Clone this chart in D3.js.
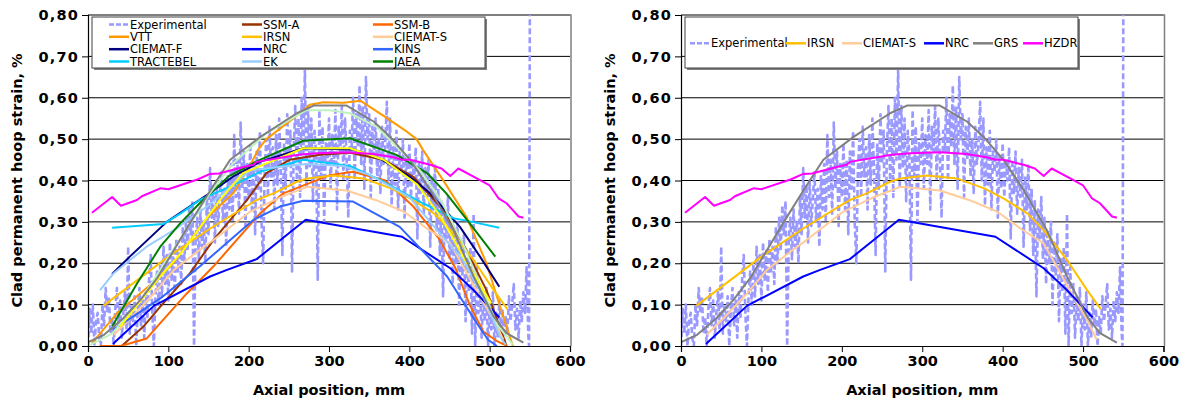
<!DOCTYPE html>
<html>
<head>
<meta charset="utf-8">
<script src="https://cdn.jsdelivr.net/npm/d3@7"></script>
<style>
  body { margin: 0; background: #fff; }
  svg text { font-family: "DejaVu Sans", Verdana, sans-serif; }
</style>
</head>
<body>
<div id="chart"></div>
<script>
var svgW = 1187;
var svgH = 403;

var axialTicks = [0, 100, 200, 300, 400, 500, 600];
var strainTicks = [0, 0.1, 0.2, 0.3, 0.4, 0.5, 0.6, 0.7, 0.8];

// measured profile, [axial mm, strain %]
var experimental = [
  [0,0.0],[2,0.09],[4,0.03],[6,0.10],[8,0.0],[10,0.06],[12,0.08],[14,0.02],[16,0.0],[18,0.10],
  [20,0.05],[22,0.14],[24,0.08],[26,0.12],[28,0.03],[30,0.07],[32,0.0],[34,0.09],[36,0.14],[38,0.05],
  [40,0.11],[42,0.02],[44,0.08],[46,0.13],[48,0.04],[50,0.24],[52,0.03],[54,0.10],[56,0.06],[58,0.12],
  [60,0.0],[62,0.09],[64,0.14],[66,0.05],[68,0.11],[70,0.02],[72,0.13],[74,0.07],[76,0.16],[78,0.22],
  [80,0.08],[82,0.0],[84,0.12],[86,0.18],[88,0.10],[90,0.20],[92,0.12],[94,0.24],[96,0.15],[98,0.22],
  [100,0.11],[102,0.25],[104,0.16],[106,0.23],[108,0.13],[110,0.26],[112,0.18],[114,0.24],[116,0.15],[118,0.29],
  [120,0.20],[122,0.31],[124,0.23],[126,0.34],[128,0.27],[130,0.35],[132,0.0],[134,0.26],[136,0.31],[138,0.21],
  [140,0.33],[142,0.24],[144,0.30],[146,0.20],[148,0.36],[150,0.27],[152,0.43],[154,0.31],[156,0.39],[158,0.25],
  [160,0.40],[162,0.29],[164,0.36],[166,0.42],[168,0.30],[170,0.38],[172,0.24],[174,0.41],[176,0.33],[178,0.44],
  [180,0.30],[182,0.51],[184,0.36],[186,0.45],[188,0.32],[190,0.54],[192,0.38],[194,0.47],[196,0.29],[198,0.44],
  [200,0.36],[202,0.49],[204,0.33],[206,0.45],[208,0.27],[210,0.47],[212,0.38],[214,0.52],[216,0.30],[218,0.20],
  [220,0.43],[222,0.50],[224,0.36],[226,0.53],[228,0.41],[230,0.48],[232,0.33],[234,0.51],[236,0.39],[238,0.55],
  [240,0.42],[242,0.22],[244,0.49],[246,0.38],[248,0.56],[250,0.44],[252,0.52],[254,0.18],[256,0.47],[258,0.58],
  [260,0.40],[262,0.55],[264,0.36],[266,0.60],[268,0.45],[270,0.67],[272,0.38],[274,0.58],[276,0.43],[278,0.55],
  [280,0.35],[282,0.52],[284,0.46],[286,0.16],[288,0.57],[290,0.41],[292,0.53],[294,0.30],[296,0.49],[298,0.44],
  [300,0.55],[302,0.38],[304,0.51],[306,0.44],[308,0.57],[310,0.33],[312,0.53],[314,0.47],[316,0.58],[318,0.40],
  [320,0.55],[322,0.45],[324,0.31],[326,0.52],[328,0.47],[330,0.60],[332,0.40],[334,0.56],[336,0.48],[338,0.63],
  [340,0.44],[342,0.58],[344,0.38],[346,0.65],[348,0.50],[350,0.56],[352,0.36],[354,0.53],[356,0.45],[358,0.55],
  [360,0.41],[362,0.50],[364,0.37],[366,0.53],[368,0.44],[370,0.49],[372,0.59],[374,0.40],[376,0.55],[378,0.34],
  [380,0.48],[382,0.39],[384,0.52],[386,0.33],[388,0.47],[390,0.42],[392,0.50],[394,0.31],[396,0.46],[398,0.38],
  [400,0.49],[402,0.36],[404,0.45],[406,0.40],[408,0.48],[410,0.26],[412,0.44],[414,0.37],[416,0.47],[418,0.32],
  [420,0.43],[422,0.36],[424,0.45],[426,0.24],[428,0.41],[430,0.33],[432,0.44],[434,0.28],[436,0.38],[438,0.22],
  [440,0.35],[442,0.12],[444,0.33],[446,0.26],[448,0.36],[450,0.21],[452,0.31],[454,0.15],[456,0.28],[458,0.20],
  [460,0.30],[462,0.10],[464,0.25],[466,0.17],[468,0.27],[470,0.06],[472,0.21],[474,0.13],[476,0.24],[478,0.03],
  [480,0.32],[482,0.0],[484,0.19],[486,0.08],[488,0.15],[490,0.02],[492,0.12],[494,0.06],[496,0.14],[498,0.0],
  [500,0.10],[502,0.04],[504,0.13],[506,0.0],[508,0.08],[510,0.02],[512,0.11],[514,0.05],[516,0.09],[518,0.0],
  [520,0.07],[522,0.03],[524,0.12],[526,0.06],[528,0.10],[530,0.15],[532,0.04],[534,0.09],[536,0.02],[538,0.11],
  [540,0.06],[542,0.13],[544,0.08],[546,0.19],[548,0.03],[549,0.0],[550,0.80]
];

var ssmA = [[42,0],[69,0.047],[90,0.095],[127,0.176],[156,0.256],[198,0.353],[222,0.418],[251,0.45],[289,0.462],[326,0.467],[368,0.45],[405,0.409],[446,0.32],[471,0.232],[496,0.135],[517,0.022],[521,0]];
var ssmB = [[15,0],[41,0],[73,0.018],[86,0.047],[123,0.127],[156,0.192],[214,0.32],[243,0.369],[301,0.413],[330,0.421],[370,0.40],[405,0.337],[436,0.262],[457,0.19],[475,0.1],[492,0.035],[509,0.012],[522,0]];
var vtt = [[5,0.007],[36,0.079],[85,0.16],[106,0.2],[148,0.31],[181,0.37],[200,0.43],[212,0.475],[222,0.50],[264,0.5625],[276,0.583],[293,0.589],[318,0.588],[339,0.593],[368,0.556],[397,0.518],[409,0.5],[417,0.474],[442,0.401],[471,0.3125],[496,0.2],[513,0.095],[525,0.0225],[529,0]];
var irsn = [[19,0.097],[100,0.216],[152,0.284],[210,0.353],[231,0.369],[260,0.397],[273,0.405],[306,0.412],[343,0.405],[377,0.381],[401,0.357],[431,0.32],[451,0.28],[480,0.208],[505,0.135],[522,0.089]];
var ciematS = [[32,0.027],[53,0.067],[82,0.127],[107,0.184],[136,0.228],[156,0.256],[202,0.325],[240,0.36],[260,0.375],[273,0.385],[322,0.376],[358,0.353],[393,0.325],[422,0.284],[451,0.248],[467,0.192],[488,0.119],[505,0.063],[517,0.015]];
var ciematF = [[30,0.174],[52,0.216],[98,0.30],[139,0.353],[148,0.365],[181,0.41],[214,0.445],[268,0.478],[330,0.475],[364,0.452],[400,0.41],[426,0.369],[463,0.288],[488,0.216],[512,0.143]];
var nrc = [[31,0.005],[82,0.097],[152,0.168],[173,0.184],[210,0.21],[271,0.305],[391,0.264],[451,0.188],[480,0.135],[512,0.069]];
var kins = [[31,0.039],[90,0.115],[139,0.192],[206,0.305],[239,0.337],[268,0.351],[330,0.349],[388,0.288],[447,0.168],[484,0.055],[498,0.015],[509,0]];
var tractebel = [[30,0.286],[94,0.295],[115,0.32],[139,0.353],[177,0.385],[214,0.421],[268,0.45],[326,0.435],[364,0.401],[417,0.345],[455,0.309],[471,0.303],[512,0.286]];
var ek = [[15,0.135],[32,0.176],[73,0.24],[110,0.284],[150,0.34],[202,0.425],[272,0.44],[318,0.435],[351,0.413],[400,0.36],[438,0.272],[467,0.208],[496,0.103],[513,0.022],[520,0.003]];
var jaea = [[30,0.047],[61,0.151],[90,0.24],[115,0.297],[139,0.345],[175,0.41],[214,0.45],[268,0.496],[326,0.502],[384,0.462],[422,0.418],[446,0.369],[475,0.297],[507,0.216]];
var grs = [[1,0.01],[20,0.027],[44,0.067],[65,0.111],[86,0.164],[107,0.232],[127,0.297],[152,0.375],[177,0.45],[215,0.506],[260,0.5625],[281,0.581],[322,0.581],[356,0.542],[376,0.506],[401,0.45],[426,0.377],[440,0.33],[455,0.28],[480,0.168],[505,0.071],[521,0.031],[542,0.008]];
var hzdr = [[5,0.322],[30,0.36],[41,0.339],[61,0.353],[67,0.362],[90,0.381],[100,0.379],[137,0.403],[152,0.416],[163,0.417],[196,0.434],[206,0.438],[210,0.445],[262,0.462],[285,0.466],[322,0.468],[355,0.464],[380,0.456],[391,0.45],[401,0.45],[426,0.438],[440,0.429],[451,0.411],[461,0.429],[488,0.401],[500,0.388],[511,0.357],[521,0.345],[536,0.313],[542,0.31]];
var extraYellow = [[40,0.047],[90,0.168],[119,0.232],[165,0.355],[193,0.418],[268,0.478],[326,0.478],[368,0.45],[410,0.39],[440,0.31],[467,0.216],[502,0.103]];
var extraGreen = [[0,0],[30,0.03],[65,0.11],[107,0.235],[152,0.37],[180,0.44],[222,0.514],[272,0.57],[301,0.57],[326,0.5625],[359,0.53],[388,0.474],[413,0.425],[440,0.35],[466,0.25],[490,0.14],[510,0.05],[529,0.003]];

var leftSeries = [
  {name: "Experimental", data: experimental, color: "#9999ff", dash: true},
  {name: "SSM-A", data: ssmA, color: "#993300"},
  {name: "SSM-B", data: ssmB, color: "#ff6600"},
  {name: "VTT", data: vtt, color: "#ff9900"},
  {name: "IRSN", data: irsn, color: "#ffc000"},
  {name: "CIEMAT-S", data: ciematS, color: "#ffcc99"},
  {name: "CIEMAT-F", data: ciematF, color: "#000080"},
  {name: "NRC", data: nrc, color: "#0000ff"},
  {name: "KINS", data: kins, color: "#3366ff"},
  {name: "TRACTEBEL", data: tractebel, color: "#00ccff"},
  {name: "EK", data: ek, color: "#99ccff"},
  {name: "JAEA", data: jaea, color: "#008000"},
  {name: "", data: extraGreen, color: "#c0f2c0"},
  {name: "", data: extraYellow, color: "#ffff00"},
  {name: "", data: grs, color: "#808080"},
  {name: "", data: hzdr, color: "#ff00ff"}
];

var rightSeries = [
  {name: "Experimental", data: experimental, color: "#9999ff", dash: true},
  {name: "IRSN", data: irsn, color: "#ffc000"},
  {name: "CIEMAT-S", data: ciematS, color: "#ffcc99"},
  {name: "NRC", data: nrc, color: "#0000ff"},
  {name: "GRS", data: grs, color: "#808080"},
  {name: "HZDR", data: hzdr, color: "#ff00ff"}
];

var svg = d3.select("#chart")
            .append("svg")
            .attr("width", svgW)
            .attr("height", svgH);

var fmt = d => d3.format(".2f")(d).replace(".", ",");

function drawPanel(x0, x1, series, legend) {
    var xScale = d3.scaleLinear().domain([0, 600]).range([x0, x1]);
    var yScale = d3.scaleLinear().domain([0, 0.8]).range([346, 15]);

    // gridlines
    svg.append("g").selectAll("line")
       .data(strainTicks.slice(1))
       .enter()
       .append("line")
       .attr("x1", x0).attr("x2", x1)
       .attr("y1", d => yScale(d)).attr("y2", d => yScale(d))
       .attr("stroke", "#000")
       .attr("stroke-width", 1);

    // frame on top/right
    svg.append("path")
       .attr("d", `M${x0},${yScale(0.8)}H${x1 + 1}V${yScale(0)}`)
       .attr("fill", "none")
       .attr("stroke", "#808080")
       .attr("stroke-width", 1.5);

    var clipId = "clip" + Math.round(x0);
    svg.append("clipPath").attr("id", clipId)
       .append("rect")
       .attr("x", x0).attr("y", yScale(0.8))
       .attr("width", x1 - x0).attr("height", yScale(0) - yScale(0.8));

    var line = d3.line().x(d => xScale(d[0])).y(d => yScale(d[1]));
    var lines = svg.append("g").attr("clip-path", `url(#${clipId})`);
    series.forEach(s => {
        lines.append("path")
             .datum(s.data)
             .attr("d", line)
             .attr("fill", "none")
             .attr("stroke", s.color)
             .attr("stroke-width", s.dash ? 2.6 : 2)
             .attr("stroke-dasharray", s.dash ? "6,3" : null)
             .attr("stroke-linejoin", "round");
    });

    // axes
    var bottomAxis = d3.axisBottom(xScale).tickValues(axialTicks).tickSize(6).tickPadding(4);
    var leftAxis = d3.axisLeft(yScale).tickValues(strainTicks).tickSize(6).tickPadding(3).tickFormat(fmt);

    var gx = svg.append("g").attr("transform", `translate(0, ${yScale(0)})`).call(bottomAxis);
    var gy = svg.append("g").attr("transform", `translate(${x0}, 0)`).call(leftAxis);
    [gx, gy].forEach(g => {
        g.select(".domain").attr("stroke", "#000").attr("stroke-width", 1.2);
        g.selectAll(".tick line").attr("stroke", "#000");
        g.selectAll("text")
         .attr("fill", "#000")
         .style("font-size", "14.5px")
         .style("font-weight", "bold")
         .style("font-family", "'DejaVu Sans', Verdana, sans-serif");
    });
    gy.selectAll("text").style("letter-spacing", "1.2px");

    svg.append("text")
       .attr("x", (x0 + x1) / 2)
       .attr("y", 395)
       .attr("text-anchor", "middle")
       .style("font-size", "14.5px")
       .style("font-weight", "bold")
       .text("Axial position, mm");

    svg.append("text")
       .attr("transform", `translate(${x0 - 66}, ${(yScale(0) + yScale(0.8)) / 2}) rotate(-90)`)
       .attr("text-anchor", "middle")
       .style("font-size", "14.5px")
       .style("font-weight", "bold")
       .text("Clad permanent hoop strain, %");

    // legend
    var lg = svg.append("g");
    lg.append("rect")
      .attr("x", legend.box[0] + 2).attr("y", legend.box[1] + 2)
      .attr("width", legend.box[2]).attr("height", legend.box[3])
      .attr("fill", "#808080");
    lg.append("rect")
      .attr("x", legend.box[0]).attr("y", legend.box[1])
      .attr("width", legend.box[2]).attr("height", legend.box[3])
      .attr("fill", "#fff")
      .attr("stroke", "#404040");
    series.filter(s => s.name).forEach((s, i) => {
        var p = legend.pos[i];
        lg.append("line")
          .attr("x1", p[0]).attr("x2", p[0] + 20)
          .attr("y1", p[1]).attr("y2", p[1])
          .attr("stroke", s.color)
          .attr("stroke-width", 2.5)
          .attr("stroke-dasharray", s.dash ? "5,2" : null);
        lg.append("text")
          .attr("x", p[0] + 21)
          .attr("y", p[1] + 4)
          .style("font-size", "11.5px")
          .text(s.name);
    });
}

drawPanel(88, 570, leftSeries, {
    box: [92, 17, 393, 51],
    pos: [[109, 24.5], [242, 24.5], [373, 24.5],
          [109, 36.8], [242, 36.8], [373, 36.8],
          [109, 49.2], [242, 49.2], [373, 49.2],
          [109, 61.5], [242, 61.5], [373, 61.5]]
});

drawPanel(681, 1163.5, rightSeries, {
    box: [685, 17, 393, 51],
    pos: [[690, 43.3], [786, 43.3], [842, 43.3], [924, 43.3], [973, 43.3], [1023, 43.3]]
});
</script>
</body>
</html>
